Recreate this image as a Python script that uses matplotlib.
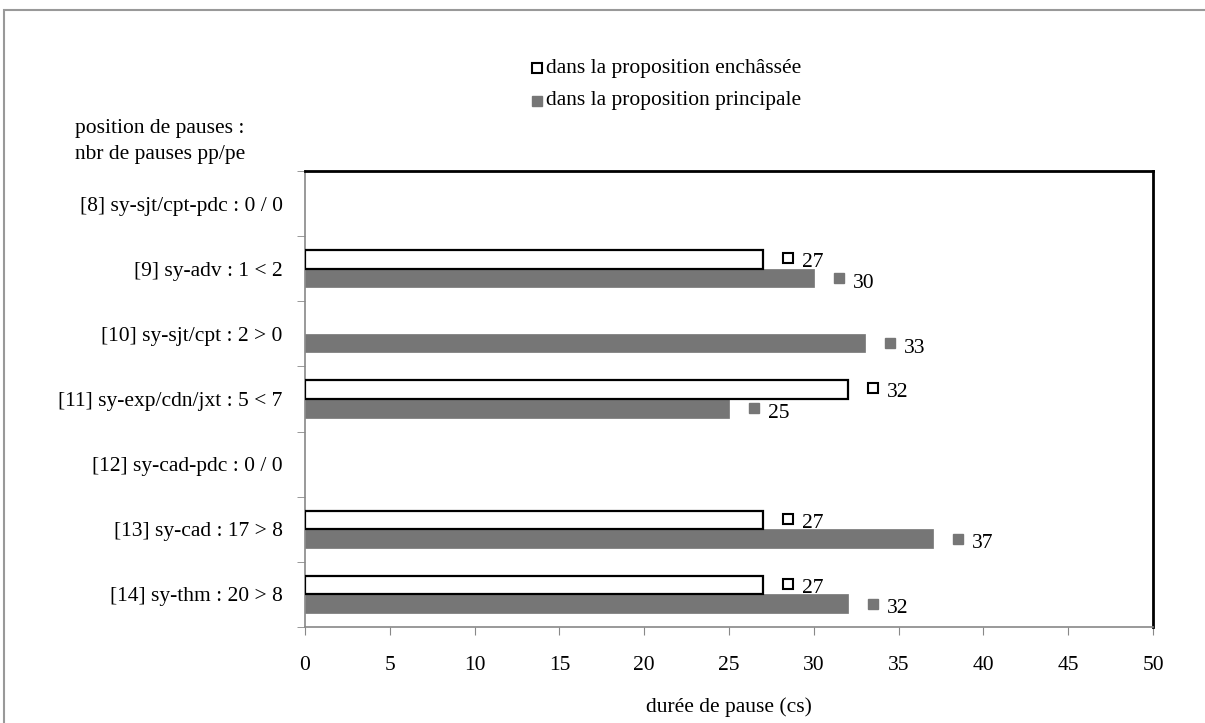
import numpy as np
import matplotlib
matplotlib.use("Agg")
import matplotlib.pyplot as plt
from matplotlib.patches import Rectangle

plt.rcParams['font.family'] = ['Liberation Serif', 'DejaVu Serif']

# categories (top to bottom)
categories = ['[8] sy-sjt/cpt-pdc : 0 / 0', '[9] sy-adv : 1 < 2', '[10] sy-sjt/cpt : 2 > 0',
              '[11] sy-exp/cdn/jxt : 5 < 7', '[12] sy-cad-pdc : 0 / 0', '[13] sy-cad : 17 > 8',
              '[14] sy-thm : 20 > 8']
enchassee = [np.nan, 27, np.nan, 32, np.nan, 27, 27]
principale = [np.nan, 30, 33, 25, np.nan, 37, 32]
series_names = ['dans la proposition enchâssée', 'dans la proposition principale']

grey = '#767676'
fs = 15.5
W, H = 1205, 723
fig = plt.figure(figsize=(W / 100, H / 100), dpi=100)
ax = fig.add_axes([305 / W, 1 - 627 / H, (1153 - 305) / W, (627 - 171) / H])

y = np.arange(len(categories))
h = 0.285
ax.barh(y - h / 2, enchassee, height=h, color='white', edgecolor='black', linewidth=1.6, zorder=3)
ax.barh(y + h / 2, principale, height=h, color=grey, edgecolor=grey, linewidth=0.5, zorder=2)

# value labels with legend keys
for i in range(len(categories)):
    v = enchassee[i]
    if not np.isnan(v):
        ax.plot(v + 1.5, i - h / 2 - 0.02, marker='s', ms=7, mfc='white', mec='black', mew=1.5, clip_on=False)
        ax.text(v + 2.3, i - h / 2 + 0.05, '%d' % v, va='center', ha='left', fontsize=fs)
    v = principale[i]
    if not np.isnan(v):
        ax.plot(v + 1.5, i + h / 2, marker='s', ms=7, mfc=grey, mec=grey, clip_on=False)
        ax.text(v + 2.3, i + h / 2 + 0.08, '%d' % v, va='center', ha='left', fontsize=fs)

ax.set_ylim(len(categories) - 0.5, -0.5)
ax.set_xlim(0, 50)
ax.set_xticks(np.arange(0, 51, 5))
ax.tick_params(axis='x', direction='out', length=6, color='#888888', labelsize=fs, pad=15)
ax.set_yticks(y)
ax.set_yticklabels(categories)
ax.set_yticks(np.arange(-0.5, len(categories), 1), minor=True)
ax.tick_params(axis='y', which='major', length=0, labelsize=fs, pad=16)
ax.tick_params(axis='y', which='minor', direction='out', length=6, color='#888888')
ax.set_xlabel('durée de pause (cs)', fontsize=fs, labelpad=16)

for s in ['left', 'bottom']:
    ax.spines[s].set_color('#888888')
    ax.spines[s].set_linewidth(1.2)
for s in ['top', 'right']:
    ax.spines[s].set_color('black')
    ax.spines[s].set_linewidth(2)

# legend
lx, ly1, ly2 = 537 / W, 1 - 68 / H, 1 - 101 / H
fig.lines.append(plt.Line2D([lx], [ly1], marker='s', ms=7, mfc='white', mec='black', mew=1.5,
                            transform=fig.transFigure))
fig.lines.append(plt.Line2D([lx], [ly2], marker='s', ms=7, mfc=grey, mec=grey,
                            transform=fig.transFigure))
fig.text(lx + 9 / W, ly1, series_names[0], fontsize=fs, va='center', ha='left')
fig.text(lx + 9 / W, ly2, series_names[1], fontsize=fs, va='center', ha='left')

fig.text(75 / W, 1 - 141 / H, 'position de pauses :\nnbr de pauses pp/pe', fontsize=fs,
         va='center', ha='left', linespacing=1.5)

# outer chart border
fig.patches.append(Rectangle((3.5 / W, -0.1), 1.2, 1.1 - 10.5 / H, transform=fig.transFigure,
                             fill=False, edgecolor='#999999', linewidth=1.5))

fig.savefig('out.png', dpi=100)
